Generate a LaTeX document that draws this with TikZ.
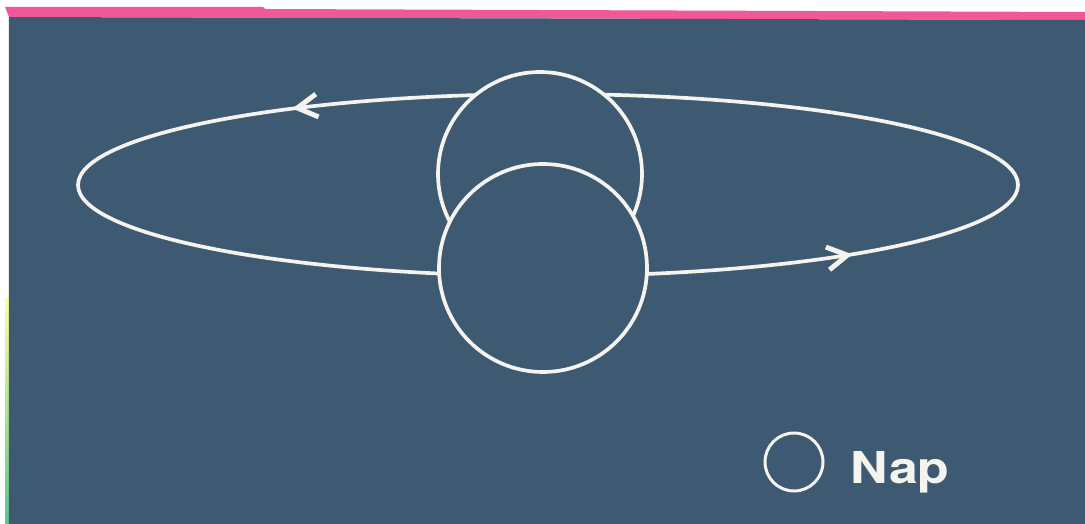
\documentclass[tikz,border=0pt]{standalone}
\usepackage{fontspec}
\setmainfont{TeX Gyre Heros}
\newfontfamily\labelfont[FakeStretch=1.18]{TeX Gyre Heros}
\usepackage{xcolor}
\usetikzlibrary{arrows.meta,decorations.markings,positioning}
\definecolor{slateblue}{HTML}{3E5A73}
\definecolor{chalkwhite}{HTML}{F5F3EE}
\definecolor{edgepink}{HTML}{F0589A}
\definecolor{edgegreen}{HTML}{5CC48A}
\tikzset{
  orbittip/.tip={Straight Barb[length=4mm,width=4.6mm,line width=2.8pt]},
  orbit/.style={
    draw=chalkwhite,
    line width=2.1pt,
    postaction={decorate},
    decoration={markings,
      mark=at position 0.38 with {\arrow[chalkwhite]{orbittip}},
      mark=at position 0.905 with {\arrow[chalkwhite]{orbittip}}}
  },
  body/.style={
    circle,
    draw=chalkwhite,
    fill=slateblue,
    line width=2.1pt,
    inner sep=0pt
  },
  legendmark/.style={
    body,
    line width=1.7pt,
    minimum size=1.16cm
  },
  legendtext/.style={
    text=chalkwhite,
    inner sep=0pt,
    font=\labelfont\bfseries\fontsize{25pt}{30pt}\selectfont
  }
}

\begin{document}
\begin{tikzpicture}
    % frame and edges of the plate
    \useasboundingbox (0,0) rectangle (21.7,10.48);
    \fill[white] (0,0) rectangle (21.7,10.48);
    \fill[edgepink] (0.1,10.34) -- (5.26,10.34) -- (5.3,10.3) -- (21.7,10.24) -- (21.7,10.08) -- (0.18,10.14) -- cycle;
    \shade[bottom color=edgegreen, top color=yellow!40] (0.1,0) rectangle (0.18,4.5);
    \fill[slateblue] (0.18,0) -- (0.18,10.14) -- (21.7,10.08) -- (21.7,0) -- cycle;

    % orbit behind the two discs
    \draw[orbit] (10.96,6.78) ellipse [x radius=9.4cm, y radius=1.82cm];

    \node[body, minimum size=4.08cm] (upper) at (10.8,7.0) {};
    \node[body, minimum size=4.16cm] (lower) at (10.86,5.12) {};

    % legend
    \node[legendmark] (sun) at (15.88,1.24) {};
    \node[legendtext, right=0.52cm of sun, yshift=-0.2cm] (sunlabel) {Nap};
\end{tikzpicture}
\end{document}
